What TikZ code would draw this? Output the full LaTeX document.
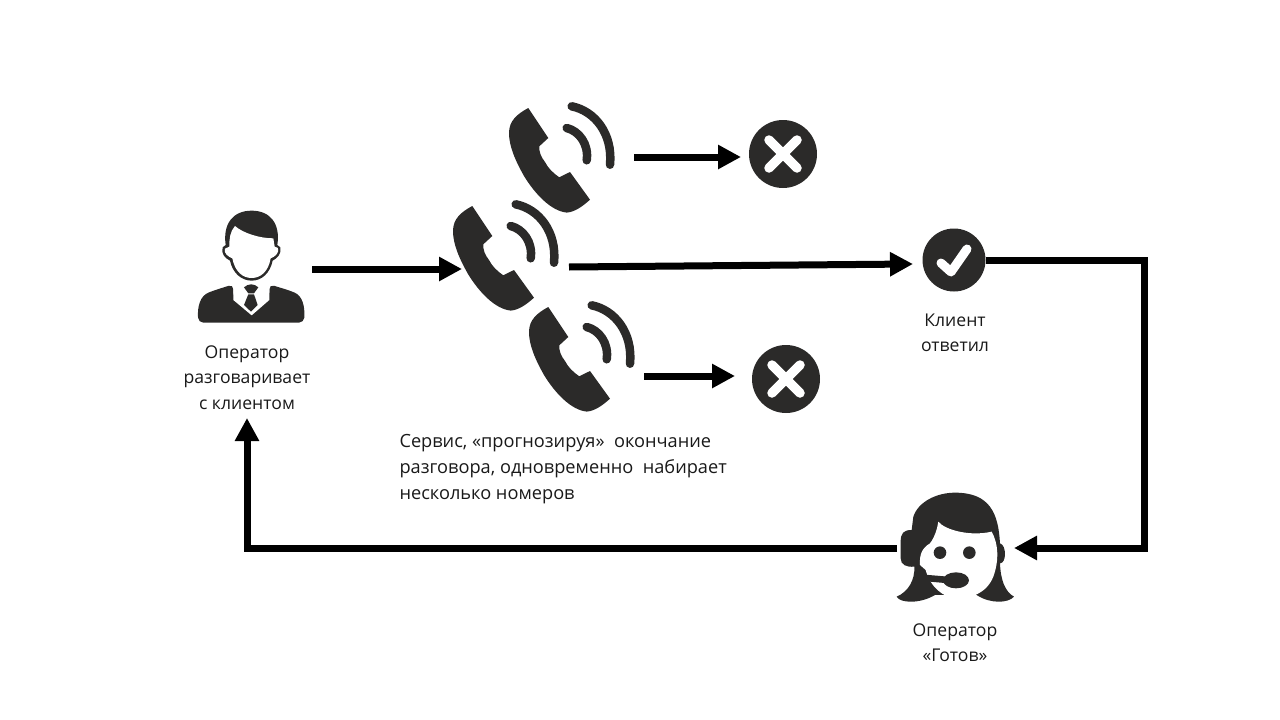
\documentclass[tikz,border=0pt]{standalone}
\usepackage{fontspec}
\setmainfont{Open Sans}
\usetikzlibrary{arrows.meta}
\definecolor{icondark}{HTML}{2B2A29}
\tikzset{
	flow/.style={line width=7pt, -{Triangle[length=23pt,width=23pt]}},
	caption/.style={text=black!90, align=center, font=\fontsize{17.6}{25.5}\selectfont},
	markdisc/.style={circle, fill=icondark, inner sep=0pt, minimum size=#1},
	phone/.pic={
		\fill[icondark] (19.3,6) -- (39.3,36) -- (30.3,44.3) .. controls (30,50) and (32,55) .. (36,60)
			.. controls (39,66) and (44,71) .. (50.3,75.3) -- (61,70) -- (81,97.7)
			.. controls (74,104) and (66,110) .. (57.7,110.6) .. controls (42,109) and (26,92) .. (15,74)
			.. controls (6,58) and (0,44) .. (0,31) .. controls (0,19) and (8,12) .. (19.3,6) -- cycle;
		\draw[icondark, line width=8.5pt, line cap=round] (62.7,4.3) .. controls (86,9) and (104,32) .. (101,62.7);
		\draw[icondark, line width=8.5pt, line cap=round] (57.7,26) .. controls (70,29) and (80,42) .. (77.7,58.3);
	},
	crossmark/.pic={
		\draw[white, line width=9.5pt, line cap=round] (-14,-14) -- (14,14) (-14,14) -- (14,-14);
	},
	checkmark/.pic={
		\draw[white, line width=9pt, line cap=round, line join=round] (-13,3) -- (-3,12) -- (13,-11);
	},
}
\begin{document}
\begin{tikzpicture}[x=1pt, y=-1pt]
	\useasboundingbox (0,0) rectangle (1280,720);
	% client operator
	\begin{scope}[shift={(180,190)}, x=0.3333pt, y=-0.3333pt]
		\fill[icondark] (215,272) .. controls (185,272) and (158,250) .. (150,212) .. controls (135,205) and (122,190) .. (128,172) -- (137,165)
			.. controls (128,100) and (160,62) .. (215,62) .. controls (270,62) and (302,100) .. (292,165) -- (301,172)
			.. controls (306,190) and (292,205) .. (278,212) .. controls (270,250) and (245,272) .. (215,272) -- cycle;
		\fill[white] (215,264) .. controls (188,264) and (165,245) .. (157,205) .. controls (145,200) and (130,190) .. (135,176) -- (148,170)
			.. controls (148,145) and (150,125) .. (165,108) .. controls (190,130) and (240,145) .. (280,145)
			-- (284,170) -- (294,174) .. controls (298,190) and (285,200) .. (272,205) .. controls (265,245) and (242,264) .. (215,264) -- cycle;
		\fill[icondark, rounded corners=5pt] (55,398) .. controls (52,350) and (60,318) .. (100,302) -- (160,283) -- (160,322) -- (215,376) -- (268,322) -- (268,283) -- (330,302)
			.. controls (368,318) and (375,350) .. (372,398) -- cycle;
		\fill[white] (160,330) -- (215,376) -- (268,330) -- (268,283) -- (160,283) -- cycle;
		\fill[icondark] (192,292) .. controls (205,280) and (222,280) .. (235,292) -- (222,310) -- (205,310) -- cycle;
		\fill[icondark] (205,313) -- (222,313) -- (233,345) -- (213,365) -- (192,345) -- cycle;
	\end{scope}
	% ready operator
	\begin{scope}[shift={(880,480)}, x=0.3333pt, y=-0.3333pt]
		\fill[icondark] (225,38) .. controls (170,38) and (115,65) .. (100,110) -- (95,150) .. controls (70,150) and (62,160) .. (62,185) -- (62,235)
			.. controls (62,255) and (80,262) .. (103,260) .. controls (105,300) and (85,335) .. (50,350) .. controls (60,370) and (120,372) .. (165,345)
			-- (290,345) .. controls (330,372) and (385,370) .. (402,350) .. controls (375,335) and (362,300) .. (360,250)
			.. controls (380,250) and (380,195) .. (360,190) .. controls (355,100) and (330,38) .. (225,38) -- cycle;
		\fill[white] (175,125) .. controls (195,150) and (270,170) .. (335,155) .. controls (355,190) and (358,240) .. (340,290)
			.. controls (320,340) and (270,358) .. (225,355) .. controls (190,352) and (150,320) .. (137,270) -- (120,255) .. controls (118,225) and (125,205) .. (150,190)
			.. controls (165,170) and (172,145) .. (175,125) -- cycle;
		\fill[icondark] (180,218) circle (6.3pt);
		\fill[icondark] (268,218) circle (6.3pt);
		\fill[icondark] (228,301) ellipse (13pt and 8pt);
		\fill[icondark] (122,283) -- (205,290) -- (205,310) -- (150,305) -- cycle;
	\end{scope}
	% three calls
	\pic at (509,102) {phone};
	\pic at (453,200) {phone};
	\pic at (529,301) {phone};
	% outcome marks
	\node[markdisc=68pt] (declineA) at (783,154) {};
	\node[markdisc=68pt] (declineB) at (786,379) {};
	\node[markdisc=63pt] (answered) at (954,260) {};
	\pic at (declineA) {crossmark};
	\pic at (declineB) {crossmark};
	\pic at (answered) {checkmark};
	% arrow ends
	\coordinate (talkOut) at (312,269);
	\coordinate (callIn) at (462,269);
	\coordinate (callOut) at (569,267);
	\coordinate (answerIn) at (913,264);
	\coordinate (topOut) at (634,157);
	\coordinate (topIn) at (741,157);
	\coordinate (lowOut) at (644,376);
	\coordinate (lowIn) at (735,376);
	\coordinate (cornerNE) at (1144,260);
	\coordinate (cornerSE) at (1144,548);
	\coordinate (readyIn) at (1014,548);
	\coordinate (readyOut) at (897,548);
	\coordinate (cornerSW) at (247,548);
	\coordinate (talkIn) at (247,418);
	\draw[flow] (talkOut) -- (callIn);
	\draw[flow] (callOut) -- (answerIn);
	\draw[flow] (topOut) -- (topIn);
	\draw[flow] (lowOut) -- (lowIn);
	\draw[flow] (answered.east) -- (cornerNE) -- (cornerSE) -- (readyIn);
	\draw[flow] (readyOut) -- (cornerSW) -- (talkIn);
	% captions
	\node[caption] (talkText) at (247,377.5) {Оператор\\разговаривает\\с клиентом};
	\node[caption] (answerText) at (955,333) {Клиент\\ответил};
	\node[caption] (readyText) at (955,642.5) {Оператор\\«Готов»};
	\node[caption, font=\fontsize{18.2}{26}\selectfont, align=left, anchor=west] (serviceText) at (396,469) {Сервис, «прогнозируя»\ \ окончание\\разговора, одновременно\ \ набирает\\несколько номеров};
\end{tikzpicture}
\end{document}
